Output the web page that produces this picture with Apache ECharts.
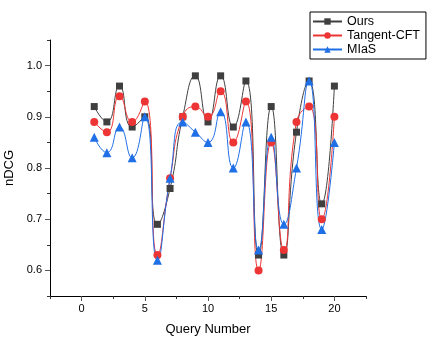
<!DOCTYPE html>
<html>
<head>
<meta charset="utf-8">
<script src="https://cdn.jsdelivr.net/npm/echarts@6/dist/echarts.min.js"></script>
<style>
  html, body { margin: 0; padding: 0; background: #fff; }
  #main { width: 433px; height: 344px; }
</style>
</head>
<body>
<div id="main"></div>
<script>
// query numbers 1..20
var queries = [1, 2, 3, 4, 5, 6, 7, 8, 9, 10, 11, 12, 13, 14, 15, 16, 17, 18, 19, 20];
var ours = [0.92, 0.89, 0.96, 0.88, 0.90, 0.69, 0.76, 0.90, 0.98, 0.89, 0.98, 0.88, 0.97, 0.63, 0.92, 0.63, 0.87, 0.97, 0.73, 0.96];
var tangentCFT = [0.89, 0.87, 0.94, 0.89, 0.93, 0.63, 0.78, 0.90, 0.92, 0.90, 0.95, 0.85, 0.93, 0.60, 0.85, 0.64, 0.89, 0.92, 0.70, 0.90];
var mias = [0.86, 0.83, 0.88, 0.82, 0.90, 0.62, 0.78, 0.89, 0.87, 0.85, 0.91, 0.80, 0.89, 0.64, 0.86, 0.69, 0.80, 0.97, 0.68, 0.85];

var xMajor = [0, 5, 10, 15, 20];
var yMajor = [0.6, 0.7, 0.8, 0.9, 1.0];

function pairs(ys) {
  return queries.map(function (q, i) { return [q, ys[i]]; });
}

var font = '"Liberation Sans", Arial, sans-serif';

var chart = echarts.init(document.getElementById('main'));

var option = {
  animation: false,
  textStyle: { fontFamily: font },
  grid: { left: 50, top: 40, right: 67, bottom: 48, outerBoundsMode: 'none' },
  legend: {
    orient: 'vertical',
    left: 310,
    top: 12,
    padding: [3, 6, 3, 2],
    itemGap: 1,
    itemWidth: 29,
    itemHeight: 8,
    borderColor: '#000',
    borderWidth: 1,
    borderRadius: 0,
    textStyle: { color: '#000', fontSize: 12.5, fontFamily: font },
    data: ['Ours', 'Tangent-CFT', 'MIaS']
  },
  xAxis: [
    {
      // main axis: every 2.5 gets a short tick, labels only on the majors
      type: 'value',
      min: -2.5,
      max: 22.5,
      interval: 2.5,
      name: 'Query Number',
      nameLocation: 'middle',
      nameGap: 27,
      nameTextStyle: { color: '#000', fontSize: 13, fontFamily: font },
      splitLine: { show: false },
      axisLine: { show: true, onZero: false, lineStyle: { color: '#000', width: 1 } },
      axisTick: { show: true, length: 3, lineStyle: { color: '#333' } },
      axisLabel: { customValues: xMajor, color: '#000', fontSize: 11, margin: 7, fontFamily: font }
    },
    {
      // longer ticks for the majors
      type: 'value',
      position: 'bottom',
      min: -2.5,
      max: 22.5,
      splitLine: { show: false },
      axisLine: { show: false, onZero: false },
      axisTick: { show: true, customValues: xMajor, length: 5, lineStyle: { color: '#555' } },
      axisLabel: { show: false }
    }
  ],
  yAxis: [
    {
      type: 'value',
      min: 0.55,
      max: 1.05,
      interval: 0.05,
      name: 'nDCG',
      nameLocation: 'middle',
      nameGap: 29,
      nameTextStyle: { color: '#000', fontSize: 13, fontFamily: font },
      splitLine: { show: false },
      axisLine: { show: true, onZero: false, lineStyle: { color: '#000', width: 1 } },
      axisTick: { show: true, length: 3, lineStyle: { color: '#333' } },
      axisLabel: {
        customValues: yMajor,
        color: '#000',
        fontSize: 11,
        margin: 8,
        fontFamily: font,
        formatter: function (v) { return v.toFixed(1); }
      }
    },
    {
      type: 'value',
      position: 'left',
      min: 0.55,
      max: 1.05,
      splitLine: { show: false },
      axisLine: { show: false, onZero: false },
      axisTick: { show: true, customValues: yMajor, length: 5, lineStyle: { color: '#555' } },
      axisLabel: { show: false }
    }
  ],
  series: [
    {
      name: 'Ours',
      type: 'line',
      smooth: 0.55,
      data: pairs(ours),
      symbol: 'rect',
      symbolSize: 7,
      itemStyle: { color: '#3f3f3f' },
      lineStyle: { color: '#3f3f3f', width: 1 }
    },
    {
      name: 'Tangent-CFT',
      type: 'line',
      smooth: 0.55,
      data: pairs(tangentCFT),
      symbol: 'circle',
      symbolSize: 8,
      itemStyle: { color: '#ee3535' },
      lineStyle: { color: '#ee3535', width: 1 }
    },
    {
      name: 'MIaS',
      type: 'line',
      smooth: 0.55,
      data: pairs(mias),
      symbol: 'triangle',
      symbolSize: 9,
      itemStyle: { color: '#1f6fe6' },
      lineStyle: { color: '#1f6fe6', width: 1 }
    }
  ]
};

chart.setOption(option);
</script>
</body>
</html>
